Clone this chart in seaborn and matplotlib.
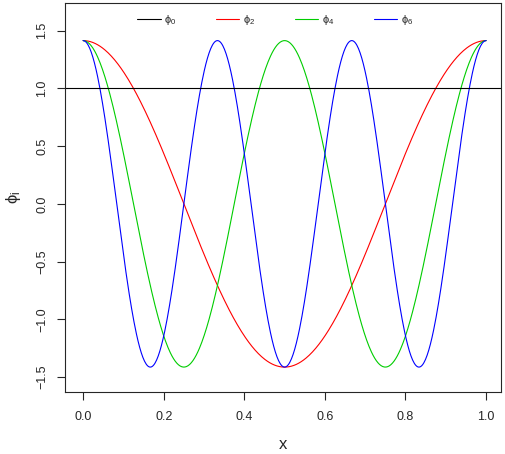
import numpy as np
import pandas as pd
import matplotlib
matplotlib.use("Agg")
import matplotlib.pyplot as plt
import seaborn as sns

# cosine basis orders shown in the chart and their colours
orders = [0, 2, 4, 6]
labels = ["\u03d5$_0$", "\u03d5$_2$", "\u03d5$_4$", "\u03d5$_6$"]
colors = ["black", "#FF0000", "#00CD00", "#0000FF"]
x_ticks = [0.0, 0.2, 0.4, 0.6, 0.8, 1.0]
y_ticks = [-1.5, -1.0, -0.5, 0.0, 0.5, 1.0, 1.5]

sns.set_style("ticks")
plt.rcParams["font.family"] = ["Liberation Sans", "DejaVu Sans"]
plt.rcParams["mathtext.fontset"] = "custom"
plt.rcParams["mathtext.rm"] = "Liberation Sans"
plt.rcParams["mathtext.it"] = "Liberation Sans"

# phi_k(x) = sqrt(2) cos(k pi x), phi_0 = 1
x = np.linspace(0, 1, 500)
frames = []
for k, lab in zip(orders[1:], labels[1:]):
    frames.append(pd.DataFrame({"x": x, "phi": np.sqrt(2) * np.cos(k * np.pi * x), "basis": lab}))
data = pd.concat(frames, ignore_index=True)

fig = plt.figure(figsize=(5.06, 4.54), dpi=100)
ax = fig.add_axes([65 / 506, 62 / 454, 436 / 506, 389 / 454])

sns.lineplot(data=data, x="x", y="phi", hue="basis", hue_order=labels[1:],
             palette=colors[1:], linewidth=0.8, ax=ax, legend=False)
ax.axhline(1.0, color=colors[0], linewidth=0.8)

ax.set_xlim(-0.045, 1.037)
ax.set_ylim(-1.63, 1.74)
ax.set_xticks(x_ticks)
ax.set_xticklabels([f"{t:.1f}" for t in x_ticks], fontsize=9)
ax.set_yticks(y_ticks)
ax.set_yticklabels([f"{t:.1f}".replace("-", "\u2212") for t in y_ticks], fontsize=9,
                   rotation=90, va="center")
ax.tick_params(length=6, width=0.8, pad=8)
ax.tick_params(axis="y", pad=6)
ax.set_xlabel("x", fontsize=12, labelpad=10)
ax.set_ylabel("\u03d5$_i$", fontsize=12, rotation=90, va="center", ha="center")
ax.yaxis.set_label_coords(-0.118, 0.5)
for s in ax.spines.values():
    s.set_linewidth(0.8)

handles = [plt.Line2D([], [], color=c, linewidth=0.8) for c in colors]
ax.legend(handles, labels, loc="upper center", bbox_to_anchor=(0.482, 1.0), ncol=4,
          frameon=False, fontsize=8, handlelength=2.1, handletextpad=0.3,
          columnspacing=3.6)

fig.savefig("out.png", dpi=100)
